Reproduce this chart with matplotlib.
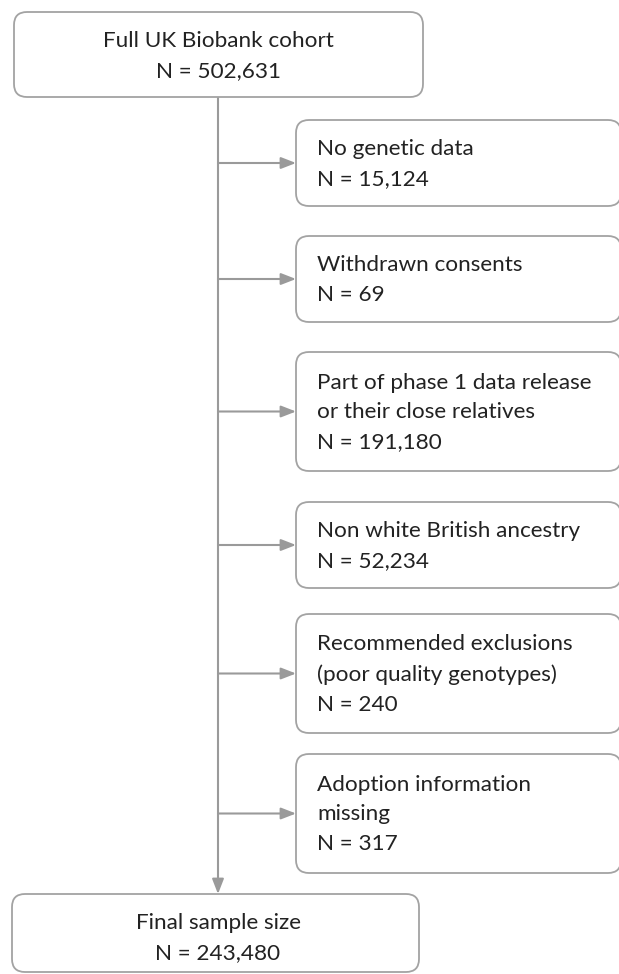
import matplotlib
matplotlib.use("Agg")
import matplotlib.pyplot as plt
from matplotlib.patches import FancyBboxPatch

# данные схемы отбора
top_label = "Full UK Biobank cohort"
top_n = 502631
excl_labels = [
    "No genetic data",
    "Withdrawn consents",
    "Part of phase 1 data release\nor their close relatives",
    "Non white British ancestry",
    "Recommended exclusions\n(poor quality genotypes)",
    "Adoption information\nmissing",
]
excl_n = [15124, 69, 191180, 52234, 240, 317]
final_label = "Final sample size"
final_n = 243480

plt.rcParams['font.family'] = ['Lato', 'DejaVu Sans']

edge = '#a3a3a3'
line = '#9a9a9a'
txt = '#222222'
fs = 16.2
ls = 1.6

fig = plt.figure(figsize=(6.19, 9.74), dpi=100)
ax = fig.add_axes([0, 0, 1, 1])
ax.set_xlim(0, 619)
ax.set_ylim(974, 0)
ax.axis('off')


def box(x0, y0, x1, y1):
    r = 13
    p = FancyBboxPatch((x0 + r, y0 + r), (x1 - x0) - 2 * r, (y1 - y0) - 2 * r,
                       boxstyle="round,pad=%d,rounding_size=%d" % (r, r),
                       fc='white', ec=edge, lw=1.3, zorder=2)
    ax.add_patch(p)


spine_x = 218

# верхний блок
box(14, 12, 423, 97)
ax.text(spine_x, 56, top_label + "\nN = " + format(top_n, ","), ha='center', va='center',
        fontsize=fs, color=txt, linespacing=ls, zorder=3)

# боковые блоки
tops = [120, 236, 352, 502, 614, 754]
for i in range(len(excl_labels)):
    nlines = excl_labels[i].count("\n") + 2
    h = 86 if nlines == 2 else 119
    y0 = tops[i]
    box(296, y0, 621, y0 + h)
    yc = y0 + h / 2
    ax.text(317, yc + 1, excl_labels[i] + "\nN = " + format(excl_n[i], ","),
            ha='left', va='center', fontsize=fs, color=txt, linespacing=ls, zorder=3)
    ax.annotate("", xy=(296, yc), xytext=(spine_x, yc),
                arrowprops=dict(arrowstyle='-|>,head_length=0.9,head_width=0.35',
                                color=line, lw=1.5, shrinkA=0, shrinkB=0), zorder=1)

# вертикальная линия до итогового блока
ax.annotate("", xy=(spine_x, 894), xytext=(spine_x, 97),
            arrowprops=dict(arrowstyle='-|>,head_length=0.9,head_width=0.35',
                            color=line, lw=1.5, shrinkA=0, shrinkB=0), zorder=1)

# итоговый блок
box(12, 894, 419, 972)
ax.text(spine_x, 938, final_label + "\nN = " + format(final_n, ","), ha='center', va='center',
        fontsize=fs, color=txt, linespacing=ls, zorder=3)

plt.savefig('out.png', dpi=100)
